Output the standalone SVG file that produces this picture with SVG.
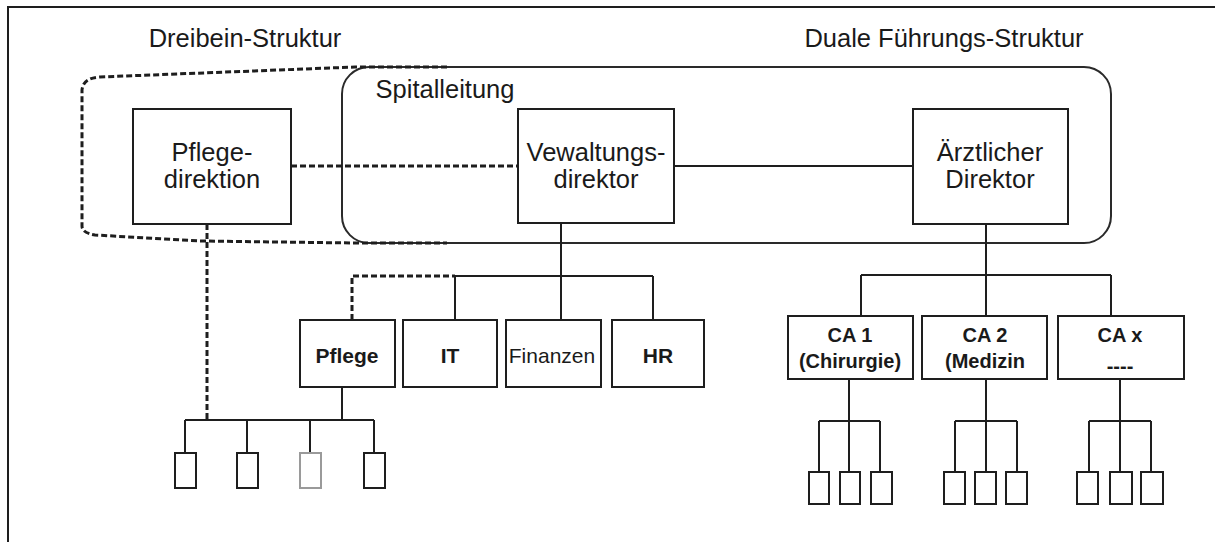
<svg xmlns="http://www.w3.org/2000/svg" width="1215" height="542" viewBox="0 0 1215 542">
<style>
  .box{fill:#fff;stroke:#1e1e1e;stroke-width:2}
  .sm{fill:#fff;stroke:#1e1e1e;stroke-width:2}
  .ln{fill:none;stroke:#1e1e1e;stroke-width:2}
  .dash{fill:none;stroke:#1e1e1e;stroke-width:3;stroke-dasharray:6 3}
  .t{font-family:"Liberation Sans",Arial,sans-serif;fill:#1a1a1a;text-anchor:middle}
  .big{font-size:25.5px}
  .mid{font-size:21px}
  .bold{font-weight:bold}
</style>
<rect width="1215" height="542" fill="#fff"/>
<path d="M8,542 L8,7 L1215,7" class="ln"/>
<text class="t big" x="245" y="47">Dreibein-Struktur</text>
<text class="t big" x="944" y="47">Duale Führungs-Struktur</text>

<g id="spitalleitung">
  <rect x="342" y="67" width="769" height="176" rx="27" ry="27" fill="none" stroke="#2a2a2a" stroke-width="2"/>
  <text class="t big" x="445" y="98">Spitalleitung</text>
</g>

<g id="connectors">
  <path class="dash" d="M447,67 L355,67 L100,77 Q83,78 82,90 L82,226 Q82,233 95,235 L200,241 L355,243 L447,243"/>
  <path class="dash" d="M291,166 L518,166"/>
  <path class="ln" d="M674,166 L913,166"/>
  <path class="ln" d="M561,223 L561,276"/>
  <path class="dash" d="M352,320 L352,276 L455,276"/>
  <path class="ln" d="M455,276 L653,276 M455,276 L455,320 M561,276 L561,320 M653,276 L653,320"/>
  <path class="dash" d="M207,224 L207,421"/>
  <path class="ln" d="M342,387 L342,420 M185,420 L374,420 M185,420 L185,453 M247,420 L247,453 M310,420 L310,453 M374,420 L374,453"/>
  <path class="ln" d="M986,224 L986,275 M861,275 L1111,275 M861,275 L861,316 M986,275 L986,316 M1111,275 L1111,316"/>
  <path class="ln" d="M849,379 L849,421 M819,421 L880,421 M819,421 L819,472 M849,421 L849,472 M880,421 L880,472"/>
  <path class="ln" d="M986,379 L986,421 M955,421 L1017,421 M955,421 L955,472 M986,421 L986,472 M1017,421 L1017,472"/>
  <path class="ln" d="M1120,379 L1120,421 M1089,421 L1151,421 M1089,421 L1089,472 M1120,421 L1120,472 M1151,421 L1151,472"/>
</g>

<g id="pflegedirektion">
  <rect class="box" x="133" y="109" width="158" height="115"/>
  <text class="t big" x="212" y="161">Pflege-</text>
  <text class="t big" x="212" y="188">direktion</text>
</g>
<g id="verwaltungsdirektor">
  <rect class="box" x="518" y="109" width="156" height="114"/>
  <text class="t big" x="596" y="161">Vewaltungs-</text>
  <text class="t big" x="596" y="188">direktor</text>
</g>
<g id="aerztlicher-direktor">
  <rect class="box" x="913" y="109" width="155" height="115"/>
  <text class="t big" x="990" y="161">Ärztlicher</text>
  <text class="t big" x="990" y="188">Direktor</text>
</g>

<g id="pflege">
  <rect class="box" x="300" y="320" width="95" height="67"/>
  <text class="t mid bold" x="347" y="363">Pflege</text>
</g>
<g id="it">
  <rect class="box" x="403" y="320" width="94" height="67"/>
  <text class="t mid bold" x="450" y="363">IT</text>
</g>
<g id="finanzen">
  <rect class="box" x="506" y="320" width="95" height="67"/>
  <text class="t mid" x="552" y="363">Finanzen</text>
</g>
<g id="hr">
  <rect class="box" x="612" y="320" width="92" height="67"/>
  <text class="t mid bold" x="658" y="363">HR</text>
</g>

<g id="ca1">
  <rect class="box" x="788" y="316" width="125" height="63"/>
  <text class="t mid bold" x="850" y="342" style="font-size:20px">CA 1</text>
  <text class="t mid bold" x="850" y="368" style="font-size:20px">(Chirurgie)</text>
</g>
<g id="ca2">
  <rect class="box" x="922" y="316" width="125" height="63"/>
  <text class="t mid bold" x="985" y="342" style="font-size:20px">CA 2</text>
  <text class="t mid bold" x="985" y="368" style="font-size:20px">(Medizin</text>
</g>
<g id="cax">
  <rect class="box" x="1058" y="316" width="126" height="63"/>
  <text class="t mid bold" x="1120" y="342" style="font-size:20px">CA x</text>
  <text class="t mid bold" x="1120" y="373" style="font-size:20px">----</text>
</g>

<g id="pflege-units">
  <rect class="sm" x="175" y="453" width="21" height="35"/>
  <rect class="sm" x="237" y="453" width="21" height="35"/>
  <rect class="sm" x="300" y="453" width="21" height="35" style="stroke:#9a9a9a"/>
  <rect class="sm" x="364" y="453" width="21" height="35"/>
</g>
<g id="ca1-units">
  <rect class="sm" x="809" y="472" width="20" height="32"/>
  <rect class="sm" x="840" y="472" width="20" height="32"/>
  <rect class="sm" x="871" y="472" width="21" height="32"/>
</g>
<g id="ca2-units">
  <rect class="sm" x="944" y="472" width="21" height="32"/>
  <rect class="sm" x="975" y="472" width="21" height="32"/>
  <rect class="sm" x="1006" y="472" width="21" height="32"/>
</g>
<g id="cax-units">
  <rect class="sm" x="1077" y="472" width="21" height="32"/>
  <rect class="sm" x="1110" y="472" width="22" height="32"/>
  <rect class="sm" x="1141" y="472" width="22" height="32"/>
</g>
</svg>
